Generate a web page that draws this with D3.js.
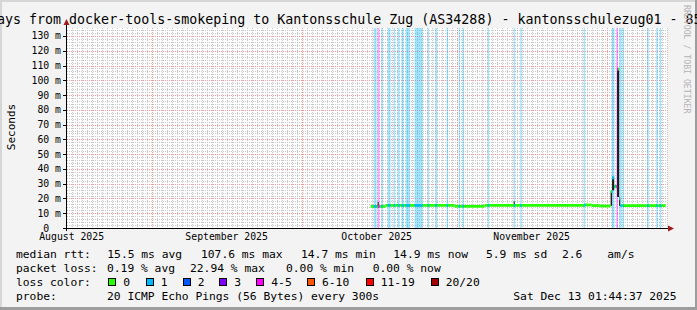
<!DOCTYPE html>
<html><head><meta charset="utf-8">
<script src="https://cdn.jsdelivr.net/npm/d3@7"></script>
<style>
html,body{margin:0;padding:0;background:#f3f3f3;}
svg{display:block;}
text{font-family:"DejaVu Sans Mono",monospace;fill:#000;}
</style></head><body>
<svg id="chart" width="697" height="310"></svg>
<script>
// ---------------- data ----------------
const titleText = "Last 120 Days from docker-tools-smokeping to Kantonsschule Zug (AS34288) - kantonsschulezug01 - 85";
const timeRange = ["2025-08-15T01:44:37", "2025-12-13T01:44:37"];
const yMax = 135.4;
const yTickValues = [0,10,20,30,40,50,60,70,80,90,100,110,120,130];
const yTickLabels = ["0","10 m","20 m","30 m","40 m","50 m","60 m","70 m","80 m","90 m","100 m","110 m","120 m","130 m"];
const monthStarts = ["2025-09-01","2025-10-01","2025-11-01","2025-12-01"];
const monthLabelDates = ["2025-08-16","2025-09-16","2025-10-16","2025-11-16"];
const monthLabels = ["August 2025","September 2025","October 2025","November 2025"];

// median RTT (ms), step samples: [start time, value]; last entry = end of data
const medianSeries = [
  ["2025-10-14T19:00", 14.6],
  ["2025-10-17T19:00", 15.3],
  ["2025-10-31T14:00", 14.7],
  ["2025-11-06T14:00", 15.3],
  ["2025-11-26T14:00", 15.6],
  ["2025-11-28T00:00", 15.2],
  ["2025-11-29T14:00", 14.9],
  ["2025-12-01T19:00", 24.8],
  ["2025-12-02T02:00", 34.0],
  ["2025-12-02T12:00", 28.0],
  ["2025-12-03T02:00", 107.6],
  ["2025-12-03T12:00", 20.0],
  ["2025-12-03T17:00", 15.1],
  ["2025-12-12T19:00", 14.9]
];

// packet loss periods: [start, end, lost pings of 20]
const lossPeriods = [
  ["2025-10-15T10:00","2025-10-16T00:00",1],
  ["2025-10-16T05:00","2025-10-16T14:00",4],
  ["2025-10-16T22:00","2025-10-17T05:00",1],
  ["2025-10-18T05:00","2025-10-18T19:00",1],
  ["2025-10-19T10:00","2025-10-19T17:00",1],
  ["2025-10-20T05:00","2025-10-20T14:00",1],
  ["2025-10-21T00:00","2025-10-21T10:00",1],
  ["2025-10-21T19:00","2025-10-22T17:00",1],
  ["2025-10-23T14:00","2025-10-25T05:00",1],
  ["2025-10-26T05:00","2025-10-26T12:00",1],
  ["2025-10-27T17:00","2025-10-28T02:00",1],
  ["2025-10-30T00:00","2025-10-30T07:00",1],
  ["2025-11-01T10:00","2025-11-01T17:00",1],
  ["2025-11-02T05:00","2025-11-02T12:00",1],
  ["2025-11-07T05:00","2025-11-07T12:00",1],
  ["2025-11-12T10:00","2025-11-12T17:00",1],
  ["2025-11-13T17:00","2025-11-14T00:00",1],
  ["2025-11-26T10:00","2025-11-26T17:00",1],
  ["2025-12-02T00:00","2025-12-02T14:00",1],
  ["2025-12-02T22:00","2025-12-03T07:00",4],
  ["2025-12-03T12:00","2025-12-04T00:00",1],
  ["2025-12-04T05:00","2025-12-04T12:00",1],
  ["2025-12-09T02:00","2025-12-09T10:00",1],
  ["2025-12-10T22:00","2025-12-11T05:00",1],
  ["2025-12-11T14:00","2025-12-11T22:00",1]
];

// smoke (ping spread) where visible: [start, end, low ms, high ms]
const smokeSeries = [
  ["2025-10-16T05:00","2025-10-16T10:00",15.0,17.5],
  ["2025-11-12T10:00","2025-11-12T15:00",15.5,18.0],
  ["2025-12-01T19:00","2025-12-02T02:00",15.0,24.8],
  ["2025-12-02T02:00","2025-12-02T12:00",25.5,34.0],
  ["2025-12-02T12:00","2025-12-03T02:00",27.0,29.0],
  ["2025-12-03T02:00","2025-12-03T12:00",21.0,107.6],
  ["2025-12-03T12:00","2025-12-03T17:00",15.0,20.0]
];

// loss colour classes
const lossClassLabels = ["0","1","2","3","4-5","6-10","11-19","20/20"];
const lossClassMax = [0,1,2,3,5,10,19,20];

const statsMedian = ["median rtt:","15.5 ms avg","107.6 ms max","14.7 ms min","14.9 ms now","5.9 ms sd","2.6","am/s"];
const statsLoss = ["packet loss:","0.19 % avg","22.94 % max","0.00 % min","0.00 % now"];
const lossColorTitle = "loss color:";
const probeTexts = ["probe:","20 ICMP Echo Pings (56 Bytes) every 300s","Sat Dec 13 01:44:37 2025"];
const watermark = "RRDTOOL / TOBI OETIKER";
const yAxisTitle = "Seconds";

// ---------------- styles / layout ----------------
const lossColors = ["#26ff00","#00b8ff","#0059ff","#7e00ff","#ff00ff","#ff5500","#ff0000","#a10000"];
const statsMedianX = [16,107.3,201,301,393.3,486,562,607.3];
const statsLossX = [16,107,190,286,372.7];
const lossBoxX = [108.3,145.7,182.7,219.3,256.3,307,365.7,430.7];
const probeX = [16,107,513.3];

const W = 697, H = 310;
const P = {l:67, r:667, t:28, b:228};
const svg = d3.select("#chart");
const parse = d3.isoParse;
const cls = n => lossClassMax.findIndex(m => n <= m);

svg.append("rect").attr("width",W).attr("height",H).attr("fill","#f3f3f3");
// shade border
svg.append("rect").attr("x",0).attr("y",0).attr("width",W).attr("height",2).attr("fill","#d6d6d6");
svg.append("rect").attr("x",0).attr("y",0).attr("width",2).attr("height",H).attr("fill","#d6d6d6");
svg.append("rect").attr("x",W-2).attr("y",0).attr("width",2).attr("height",H).attr("fill","#9d9d9d");
svg.append("rect").attr("x",0).attr("y",H-3).attr("width",W).attr("height",3).attr("fill","#9d9d9d");

const x = d3.scaleTime().domain(timeRange.map(parse)).range([P.l, P.r]);
const y = d3.scaleLinear().domain([0, yMax]).range([P.b, P.t]);
const px = v => Math.round(v) + 0.5;

// canvas
svg.append("rect").attr("x",P.l).attr("y",P.t).attr("width",P.r-P.l).attr("height",P.b-P.t).attr("fill","#fff");

const grid = svg.append("g").attr("shape-rendering","crispEdges");
// minor grid
const minorY = d3.range(2, yMax, 2).filter(v => v % 10 !== 0);
grid.selectAll(".mh").data(minorY).join("line")
  .attr("x1",P.l).attr("x2",P.r).attr("y1",d=>px(y(d))).attr("y2",d=>px(y(d)))
  .attr("stroke","#c8c8c8").attr("stroke-dasharray","1,1");
const days = d3.timeDay.range(x.domain()[0], x.domain()[1]);
grid.selectAll(".mv").data(days).join("line")
  .attr("x1",d=>px(x(d))).attr("x2",d=>px(x(d))).attr("y1",P.t).attr("y2",P.b)
  .attr("stroke","#c8c8c8").attr("stroke-dasharray","1,1");
// major grid
grid.selectAll(".Mh").data(yTickValues.filter(v=>v>0)).join("line")
  .attr("x1",P.l).attr("x2",P.r).attr("y1",d=>px(y(d))).attr("y2",d=>px(y(d)))
  .attr("stroke","#ee9a9a").attr("stroke-dasharray","1,1");
grid.selectAll(".Mv").data(monthStarts.map(parse)).join("line")
  .attr("x1",d=>px(x(d))).attr("x2",d=>px(x(d))).attr("y1",P.t).attr("y2",P.b+2)
  .attr("stroke","#ee9a9a").attr("stroke-dasharray","1,1");

// loss background bars
svg.append("g").selectAll("rect").data(lossPeriods).join("rect")
  .attr("x",d=>x(parse(d[0]))).attr("width",d=>Math.max(1, x(parse(d[1]))-x(parse(d[0]))))
  .attr("y",P.t).attr("height",P.b-P.t)
  .attr("fill",d=>lossColors[cls(d[2])]).attr("fill-opacity",0.36);

// smoke
svg.append("g").selectAll("rect").data(smokeSeries).join("rect")
  .attr("x",d=>x(parse(d[0]))).attr("width",d=>x(parse(d[1]))-x(parse(d[0])))
  .attr("y",d=>y(d[3])).attr("height",d=>y(d[2])-y(d[3]))
  .attr("fill","#1e1e1e");

// median line: horizontal step segments
const segs = [];
for (let i=0;i<medianSeries.length-1;i++){
  segs.push({t0:parse(medianSeries[i][0]), t1:parse(medianSeries[i+1][0]), v:medianSeries[i][1]});
}
const mg = svg.append("g");
mg.selectAll(".m0").data(segs).join("line")
  .attr("x1",d=>x(d.t0)).attr("x2",d=>x(d.t1)).attr("y1",d=>y(d.v)).attr("y2",d=>y(d.v))
  .attr("stroke",lossColors[0]).attr("stroke-width",2.8);
// colour by loss within loss periods
const colSegs = [];
lossPeriods.forEach(p=>{
  const a=parse(p[0]), b=parse(p[1]);
  segs.forEach(s=>{
    const s0 = Math.max(a,s.t0), s1 = Math.min(b,s.t1);
    if (s1 > s0) colSegs.push({t0:new Date(s0), t1:new Date(s1), v:s.v, c:cls(p[2])});
  });
});
mg.selectAll(".mc").data(colSegs).join("line")
  .attr("x1",d=>x(d.t0)).attr("x2",d=>Math.max(x(d.t1), x(d.t0)+1)).attr("y1",d=>y(d.v)).attr("y2",d=>y(d.v))
  .attr("stroke",d=>lossColors[d.c]).attr("stroke-width",2.8);

// axes
const ax = svg.append("g").attr("shape-rendering","crispEdges");
ax.append("line").attr("x1",64).attr("x2",669).attr("y1",P.b+0.5).attr("y2",P.b+0.5).attr("stroke","#000");
ax.append("line").attr("x1",P.l-0.5).attr("x2",P.l-0.5).attr("y1",P.b+3).attr("y2",24).attr("stroke","#000");
ax.selectAll(".yt").data(yTickValues).join("line")
  .attr("x1",P.l-4).attr("x2",P.l-1).attr("y1",d=>px(y(d))).attr("y2",d=>px(y(d))).attr("stroke","#000");
svg.append("path").attr("d",`M${P.l-3.5},25 L${P.l+2.5},25 L${P.l-0.5},19 Z`).attr("fill","#a01a1a");
svg.append("path").attr("d",`M668,${P.b-2.5} L668,${P.b+3.5} L674,${P.b+0.5} Z`).attr("fill","#a01a1a");

// y tick labels
svg.append("g").selectAll("text").data(yTickValues).join("text")
  .attr("x",(d,i)=> yTickLabels[i].indexOf(" ")<0 ? 61-2*5.9 : 61)
  .attr("y",d=>y(d)+3.5).attr("text-anchor","end").attr("font-size","9.8px")
  .text((d,i)=>yTickLabels[i]);
// x labels
svg.append("g").selectAll("text").data(monthLabelDates).join("text")
  .attr("x",d=>x(parse(d))).attr("y",240).attr("text-anchor","middle").attr("font-size","9.8px")
  .text((d,i)=>monthLabels[i]);

// title
svg.append("text").attr("x",-83).attr("y",23.5).attr("font-size","13.3px").text(titleText);
// y title
svg.append("text").attr("transform","translate(14.5,127) rotate(-90)").attr("text-anchor","middle")
  .attr("font-size","11px").text(yAxisTitle);
// watermark
svg.append("text").attr("transform","translate(684,5) rotate(90)").attr("font-size","8.2px")
  .style("fill","#b4b4b4").text(watermark);

// legend
const lg = svg.append("g").attr("font-size","11.3px");
lg.selectAll(".l1").data(statsMedian).join("text").attr("x",(d,i)=>statsMedianX[i]).attr("y",258).text(d=>d);
lg.selectAll(".l2").data(statsLoss).join("text").attr("x",(d,i)=>statsLossX[i]).attr("y",272).text(d=>d);
lg.append("text").attr("x",16).attr("y",286).text(lossColorTitle);
lg.selectAll(".lb").data(lossClassLabels).join("rect")
  .attr("x",(d,i)=>lossBoxX[i]+0.5).attr("y",278.5).attr("width",7).attr("height",7)
  .attr("fill",(d,i)=>lossColors[i]).attr("stroke","#000").attr("shape-rendering","crispEdges");
lg.selectAll(".lt").data(lossClassLabels).join("text")
  .attr("x",(d,i)=>lossBoxX[i]+15).attr("y",286).text(d=>d);
lg.selectAll(".l4").data(probeTexts).join("text").attr("x",(d,i)=>probeX[i]).attr("y",300).text(d=>d);
</script>
</body></html>
